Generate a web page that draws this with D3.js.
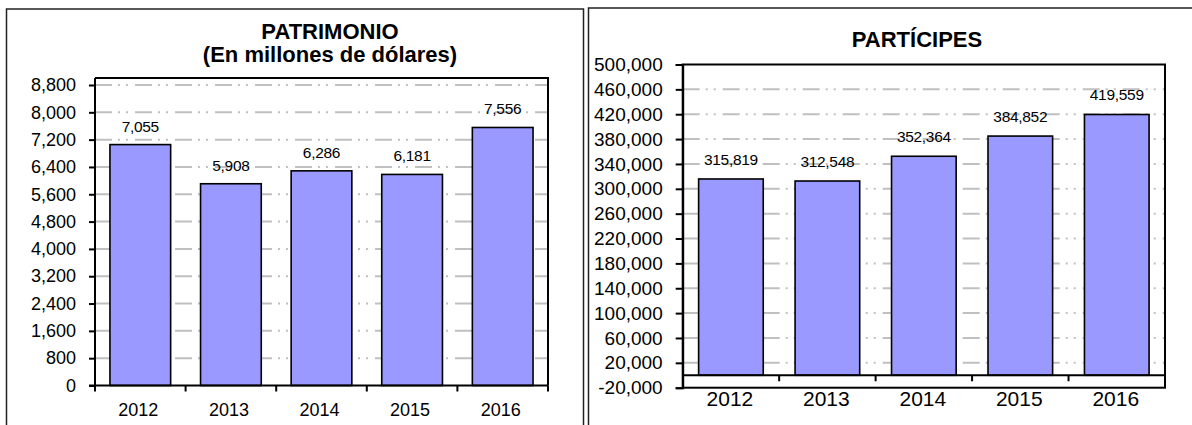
<!DOCTYPE html>
<html>
<head>
<meta charset="utf-8">
<script src="https://cdn.jsdelivr.net/npm/d3@7"></script>
<style>
  body { margin: 0; background: #fff; }
  text { font-family: "Liberation Sans", Arial, sans-serif; fill: #000; }
</style>
</head>
<body>
<script>
// values
var years = ["2012", "2013", "2014", "2015", "2016"];
var patrimonio = [7055, 5908, 6286, 6181, 7556];
var participes = [315819, 312548, 352364, 384852, 419559];
var patrimonioTicks = [0, 800, 1600, 2400, 3200, 4000, 4800, 5600, 6400, 7200, 8000, 8800];
var participesTicks = [-20000, 20000, 60000, 100000, 140000, 180000, 220000, 260000, 300000, 340000, 380000, 420000, 460000, 500000];

var fmt = function(v) { return d3.format(",")(v).replace("\u2212", "-"); };

var svg = d3.select("body").append("svg")
    .attr("width", 1192)
    .attr("height", 425);

// outer chart frames
svg.append("rect")
    .attr("x", 6.5).attr("y", 9)
    .attr("width", 577).attr("height", 440)
    .attr("fill", "#fff").attr("stroke", "#222").attr("stroke-width", 1.5);
svg.append("rect")
    .attr("x", 588.5).attr("y", 8)
    .attr("width", 640).attr("height", 440)
    .attr("fill", "#fff").attr("stroke", "#222").attr("stroke-width", 1.5);

var gridDash = "17,6,2,6,2,7";

// ---------- PATRIMONIO ----------
var x1 = d3.scaleBand()
    .domain(years)
    .range([95, 548])
    .paddingInner(0.33)
    .paddingOuter(0.165);

var y1 = d3.scaleLinear()
    .domain([0, 8800])
    .range([385.5, 85]);

var g1 = svg.append("g");

g1.selectAll("line.grid")
    .data(patrimonioTicks.filter(function(d) { return d > 0; }))
    .enter().append("line")
    .attr("class", "grid")
    .attr("x1", 95).attr("x2", 548)
    .attr("y1", function(d) { return y1(d); })
    .attr("y2", function(d) { return y1(d); })
    .attr("stroke", "#c0c0c0")
    .attr("stroke-width", 2)
    .attr("stroke-dasharray", gridDash);

g1.selectAll("rect.bar")
    .data(patrimonio)
    .enter().append("rect")
    .attr("class", "bar")
    .attr("x", function(d, i) { return x1(years[i]); })
    .attr("y", function(d) { return y1(d); })
    .attr("width", x1.bandwidth())
    .attr("height", function(d) { return y1(0) - y1(d); })
    .attr("fill", "#9999ff")
    .attr("stroke", "#000")
    .attr("stroke-width", 1.6);

g1.selectAll("text.val")
    .data(patrimonio)
    .enter().append("text")
    .attr("class", "val")
    .attr("x", function(d, i) { return x1(years[i]) + x1.bandwidth() / 2; })
    .attr("y", function(d) { return y1(d) - 13; })
    .attr("text-anchor", "middle")
    .style("font-size", "15.5px")
    .style("letter-spacing", "-0.3px")
    .text(fmt);

// plot frame (top / right)
g1.append("path")
    .attr("d", "M95," + (y1(8800) - 7) + "H548V" + y1(0))
    .attr("fill", "none")
    .attr("stroke", "#000")
    .attr("stroke-width", 2);

var yAxis1 = d3.axisLeft(y1)
    .tickValues(patrimonioTicks)
    .tickSize(6)
    .tickPadding(13)
    .tickFormat(fmt);

var ya1 = g1.append("g")
    .attr("transform", "translate(95,0)")
    .call(yAxis1);
ya1.select(".domain").attr("d", "M-6," + y1(0) + "H0V" + (y1(8800) - 7)).attr("stroke-width", 2);
ya1.selectAll(".tick line").attr("stroke-width", 2);
ya1.selectAll("text").style("font-size", "18px").attr("font-family", null);

// x axis line + ticks between categories
var step1 = x1.step();
g1.append("line")
    .attr("x1", 95).attr("x2", 548)
    .attr("y1", y1(0)).attr("y2", y1(0))
    .attr("stroke", "#000").attr("stroke-width", 2);
g1.selectAll("line.xtick")
    .data(d3.range(years.length + 1))
    .enter().append("line")
    .attr("class", "xtick")
    .attr("x1", function(i) { return 95 + i * step1; })
    .attr("x2", function(i) { return 95 + i * step1; })
    .attr("y1", y1(0)).attr("y2", y1(0) + 6)
    .attr("stroke", "#000").attr("stroke-width", 2);

g1.selectAll("text.year")
    .data(years)
    .enter().append("text")
    .attr("class", "year")
    .attr("x", function(d) { return x1(d) + x1.bandwidth() / 2 - 2; })
    .attr("y", 416)
    .attr("text-anchor", "middle")
    .style("font-size", "18px")
    .text(function(d) { return d; });

g1.append("text")
    .attr("x", 330).attr("y", 39)
    .attr("text-anchor", "middle")
    .style("font-size", "22px").style("font-weight", "bold")
    .text("PATRIMONIO");
g1.append("text")
    .attr("x", 330).attr("y", 62)
    .attr("text-anchor", "middle")
    .style("font-size", "22px").style("font-weight", "bold")
    .text("(En millones de dólares)");

// ---------- PARTÍCIPES ----------
var x2 = d3.scaleBand()
    .domain(years)
    .range([682.7, 1165])
    .paddingInner(0.33)
    .paddingOuter(0.165);

var y2 = d3.scaleLinear()
    .domain([-20000, 500000])
    .range([387.7, 64.5]);

var g2 = svg.append("g");

g2.selectAll("line.grid")
    .data(participesTicks.filter(function(d) { return d > 0 && d < 500000; }))
    .enter().append("line")
    .attr("class", "grid")
    .attr("x1", 682.7).attr("x2", 1165)
    .attr("y1", function(d) { return y2(d); })
    .attr("y2", function(d) { return y2(d); })
    .attr("stroke", "#c0c0c0")
    .attr("stroke-width", 2)
    .attr("stroke-dasharray", gridDash);

g2.selectAll("rect.bar")
    .data(participes)
    .enter().append("rect")
    .attr("class", "bar")
    .attr("x", function(d, i) { return x2(years[i]); })
    .attr("y", function(d) { return y2(d); })
    .attr("width", x2.bandwidth())
    .attr("height", function(d) { return y2(0) - y2(d); })
    .attr("fill", "#9999ff")
    .attr("stroke", "#000")
    .attr("stroke-width", 1.6);

g2.selectAll("text.val")
    .data(participes)
    .enter().append("text")
    .attr("class", "val")
    .attr("x", function(d, i) { return x2(years[i]) + x2.bandwidth() / 2; })
    .attr("y", function(d) { return y2(d) - 14; })
    .attr("text-anchor", "middle")
    .style("font-size", "15.5px")
    .style("letter-spacing", "-0.3px")
    .text(fmt);

g2.append("rect")
    .attr("x", 682.7).attr("y", y2(500000))
    .attr("width", 1165 - 682.7)
    .attr("height", y2(-20000) - y2(500000))
    .attr("fill", "none")
    .attr("stroke", "#000")
    .attr("stroke-width", 2);

var yAxis2 = d3.axisLeft(y2)
    .tickValues(participesTicks)
    .tickSize(7)
    .tickPadding(13)
    .tickFormat(fmt);

var ya2 = g2.append("g")
    .attr("transform", "translate(682.7,0)")
    .call(yAxis2);
ya2.select(".domain").attr("stroke-width", 2);
ya2.selectAll(".tick line").attr("stroke-width", 2);
ya2.selectAll("text").style("font-size", "19px").attr("font-family", null);

// category axis crosses at zero
var step2 = x2.step();
g2.append("line")
    .attr("x1", 682.7).attr("x2", 1165)
    .attr("y1", y2(0)).attr("y2", y2(0))
    .attr("stroke", "#000").attr("stroke-width", 2);
g2.selectAll("line.xtick")
    .data(d3.range(1, years.length))
    .enter().append("line")
    .attr("class", "xtick")
    .attr("x1", function(i) { return 682.7 + i * step2; })
    .attr("x2", function(i) { return 682.7 + i * step2; })
    .attr("y1", y2(0)).attr("y2", y2(0) + 6)
    .attr("stroke", "#000").attr("stroke-width", 2);

g2.selectAll("text.year")
    .data(years)
    .enter().append("text")
    .attr("class", "year")
    .attr("x", function(d) { return x2(d) + x2.bandwidth() / 2 - 1; })
    .attr("y", 406)
    .attr("text-anchor", "middle")
    .style("font-size", "21px")
    .text(function(d) { return d; });

g2.append("text")
    .attr("x", 917).attr("y", 47)
    .attr("text-anchor", "middle")
    .style("font-size", "22px").style("font-weight", "bold")
    .text("PARTÍCIPES");
</script>
</body>
</html>
